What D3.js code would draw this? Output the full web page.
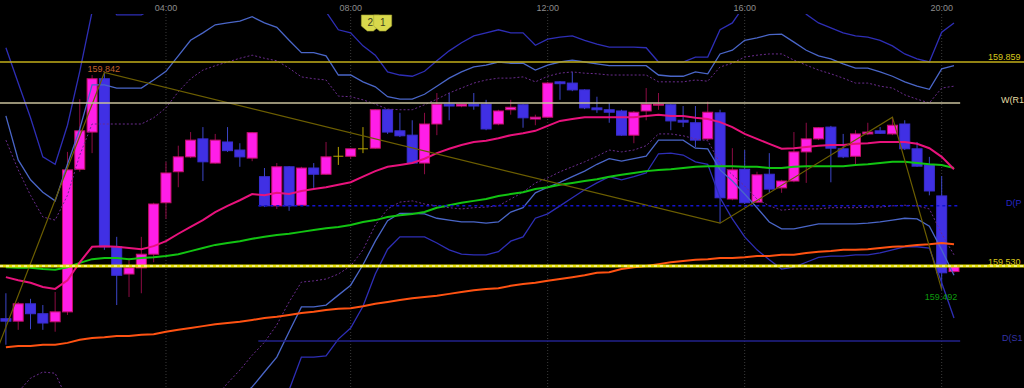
<!DOCTYPE html>
<html>
<head>
<meta charset="utf-8">
<script src="https://cdn.jsdelivr.net/npm/d3@7"></script>
<style>
  html, body { margin: 0; padding: 0; background: #000; }
  svg { display: block; }
</style>
</head>
<body>
<svg id="chart" width="1024" height="388"></svg>
<script>
// 15 minute candles, index 0 = first bar on screen
const opens = [159.445,159.441,159.469,159.453,159.440,159.456,159.686,159.746,159.832,159.561,
  159.517,159.527,159.549,159.632,159.682,159.706,159.735,159.696,159.730,159.717,
  159.704,159.674,159.627,159.690,159.628,159.688,159.678,159.707,159.707,159.719,
  159.720,159.782,159.748,159.741,159.696,159.759,159.791,159.788,159.791,159.791,
  159.759,159.782,159.790,159.767,159.770,159.827,159.825,159.814,159.785,159.782,
  159.780,159.741,159.780,159.790,159.790,159.765,159.761,159.735,159.777,159.638,
  159.686,159.633,159.678,159.656,159.667,159.714,159.735,159.754,159.719,159.707,
  159.743,159.748,159.743,159.759,159.719,159.693,159.643,159.521];
const highs = [159.486,159.472,159.477,159.467,159.488,159.714,159.799,159.838,159.842,159.577,
  159.543,159.577,159.632,159.698,159.724,159.746,159.754,159.743,159.754,159.728,
  159.746,159.688,159.696,159.691,159.690,159.696,159.730,159.722,159.720,159.754,
  159.783,159.783,159.777,159.765,159.777,159.809,159.809,159.791,159.809,159.798,
  159.782,159.798,159.791,159.774,159.827,159.828,159.843,159.815,159.803,159.793,
  159.782,159.780,159.817,159.809,159.791,159.788,159.788,159.795,159.782,159.720,
  159.717,159.682,159.712,159.669,159.746,159.761,159.754,159.756,159.743,159.749,
  159.761,159.754,159.770,159.765,159.730,159.706,159.675,159.531];
const lows = [159.403,159.427,159.428,159.427,159.424,159.451,159.682,159.712,159.556,159.467,
  159.480,159.486,159.536,159.606,159.657,159.704,159.667,159.695,159.714,159.690,
  159.699,159.625,159.622,159.619,159.627,159.656,159.677,159.693,159.703,159.712,
  159.719,159.743,159.738,159.695,159.678,159.741,159.765,159.786,159.782,159.749,
  159.757,159.774,159.753,159.757,159.769,159.798,159.812,159.783,159.777,159.761,
  159.740,159.728,159.765,159.782,159.749,159.754,159.722,159.733,159.599,159.636,
  159.630,159.632,159.648,159.648,159.665,159.664,159.733,159.665,159.704,159.693,
  159.741,159.743,159.741,159.717,159.690,159.644,159.492,159.519];
const closes = [159.441,159.469,159.453,159.438,159.456,159.685,159.748,159.832,159.561,159.515,
  159.527,159.549,159.630,159.680,159.706,159.733,159.698,159.733,159.716,159.706,
  159.745,159.627,159.690,159.627,159.688,159.678,159.706,159.707,159.719,159.719,
  159.782,159.746,159.740,159.696,159.759,159.791,159.788,159.791,159.788,159.751,
  159.780,159.786,159.769,159.770,159.825,159.824,159.814,159.785,159.782,159.778,
  159.741,159.778,159.791,159.791,159.764,159.762,159.733,159.778,159.640,159.685,
  159.632,159.677,159.654,159.667,159.714,159.735,159.753,159.720,159.706,159.743,
  159.746,159.744,159.757,159.719,159.691,159.651,159.519,159.530];

// moving averages
const maFast = [159.512,159.507,159.503,159.496,159.493,159.507,159.536,159.561,159.562,159.561,
  159.559,159.557,159.562,159.570,159.582,159.593,159.604,159.617,159.627,159.636,
  159.646,159.644,159.648,159.646,159.651,159.654,159.657,159.661,159.665,159.674,
  159.683,159.690,159.693,159.696,159.703,159.712,159.719,159.725,159.730,159.732,
  159.736,159.741,159.744,159.748,159.756,159.764,159.767,159.770,159.770,159.770,
  159.770,159.770,159.772,159.774,159.772,159.772,159.769,159.767,159.762,159.754,
  159.743,159.735,159.727,159.719,159.720,159.722,159.724,159.725,159.725,159.727,
  159.728,159.730,159.730,159.730,159.727,159.720,159.706,159.686];
const maMid = [159.528,159.527,159.527,159.525,159.524,159.528,159.535,159.541,159.543,159.543,
  159.541,159.543,159.544,159.546,159.549,159.554,159.559,159.564,159.567,159.570,
  159.574,159.577,159.580,159.582,159.585,159.588,159.591,159.593,159.596,159.601,
  159.604,159.609,159.612,159.614,159.617,159.624,159.628,159.632,159.635,159.638,
  159.643,159.646,159.649,159.654,159.657,159.661,159.664,159.667,159.670,159.674,
  159.677,159.680,159.683,159.685,159.686,159.688,159.690,159.691,159.691,159.691,
  159.690,159.690,159.688,159.688,159.690,159.691,159.691,159.691,159.691,159.693,
  159.694,159.696,159.698,159.698,159.696,159.694,159.693,159.688];
const maSlow = [159.399,159.401,159.401,159.403,159.403,159.406,159.411,159.414,159.415,159.417,
  159.417,159.419,159.420,159.424,159.427,159.430,159.433,159.436,159.438,159.440,
  159.443,159.446,159.448,159.451,159.454,159.456,159.459,159.461,159.462,159.465,
  159.469,159.472,159.475,159.478,159.480,159.482,159.485,159.488,159.491,159.493,
  159.494,159.498,159.501,159.503,159.506,159.509,159.512,159.515,159.519,159.520,
  159.525,159.528,159.530,159.533,159.536,159.538,159.540,159.541,159.543,159.543,
  159.544,159.546,159.546,159.548,159.548,159.551,159.553,159.554,159.556,159.556,
  159.557,159.559,159.561,159.562,159.564,159.565,159.567,159.565];

// envelope bands
const outerUp = [159.882,159.825,159.769,159.706,159.694,159.757,159.844,159.940,159.967,159.935,
  159.935,159.935,159.946,159.967,159.983,159.999,160.007,160.015,160.015,160.015,
  160.015,160.007,159.999,159.983,159.967,159.951,159.940,159.911,159.906,159.885,
  159.870,159.843,159.838,159.836,159.844,159.861,159.877,159.890,159.901,159.906,
  159.911,159.906,159.906,159.886,159.896,159.899,159.901,159.894,159.888,159.883,
  159.883,159.883,159.882,159.859,159.859,159.859,159.867,159.867,159.911,159.922,
  159.951,159.967,159.975,159.975,159.967,159.936,159.922,159.914,159.906,159.901,
  159.899,159.894,159.885,159.872,159.864,159.859,159.907,159.922];
const innerUp = [159.772,159.701,159.669,159.649,159.635,159.694,159.751,159.822,159.822,159.817,
  159.817,159.817,159.830,159.844,159.869,159.894,159.906,159.919,159.922,159.925,
  159.932,159.922,159.915,159.894,159.874,159.874,159.869,159.838,159.838,159.827,
  159.819,159.803,159.799,159.799,159.807,159.820,159.833,159.843,159.851,159.854,
  159.859,159.857,159.857,159.846,159.854,159.859,159.862,159.859,159.856,159.853,
  159.853,159.853,159.853,159.838,159.836,159.836,159.843,159.840,159.872,159.878,
  159.894,159.898,159.903,159.904,159.891,159.878,159.869,159.864,159.856,159.849,
  159.849,159.843,159.836,159.827,159.820,159.815,159.848,159.853];
const dotUp = [159.733,159.685,159.644,159.609,159.604,159.644,159.709,159.759,159.759,159.759,
  159.759,159.759,159.769,159.785,159.811,159.832,159.846,159.853,159.859,159.865,
  159.870,159.865,159.861,159.849,159.835,159.832,159.830,159.804,159.803,159.798,
  159.791,159.783,159.782,159.782,159.790,159.799,159.809,159.817,159.825,159.830,
  159.833,159.833,159.835,159.827,159.836,159.841,159.843,159.841,159.840,159.838,
  159.838,159.838,159.838,159.827,159.827,159.827,159.830,159.828,159.851,159.857,
  159.867,159.870,159.872,159.872,159.862,159.854,159.846,159.840,159.833,159.825,
  159.825,159.820,159.817,159.806,159.799,159.793,159.817,159.820];
const dotLow = [159.282,159.327,159.349,159.359,159.357,159.314,159.233,159.185,159.169,159.169,
  159.169,159.177,159.201,159.225,159.249,159.274,159.298,159.317,159.341,159.362,
  159.386,159.407,159.435,159.472,159.504,159.506,159.509,159.517,159.530,159.556,
  159.596,159.622,159.633,159.635,159.630,159.627,159.624,159.622,159.624,159.625,
  159.627,159.638,159.649,159.664,159.672,159.682,159.690,159.698,159.707,159.717,
  159.714,159.717,159.724,159.743,159.743,159.740,159.735,159.732,159.696,159.677,
  159.659,159.638,159.627,159.620,159.622,159.622,159.622,159.624,159.624,159.624,
  159.625,159.625,159.627,159.628,159.627,159.622,159.582,159.548];
const innerLow = [159.265,159.282,159.290,159.298,159.298,159.249,159.153,159.104,159.088,159.088,
  159.088,159.096,159.120,159.153,159.185,159.217,159.249,159.274,159.298,159.317,
  159.335,159.359,159.383,159.424,159.464,159.464,159.467,159.483,159.499,159.532,
  159.570,159.603,159.615,159.615,159.614,159.607,159.604,159.601,159.601,159.599,
  159.601,159.617,159.624,159.648,159.657,159.665,159.674,159.683,159.694,159.703,
  159.699,159.703,159.707,159.733,159.733,159.733,159.720,159.719,159.685,159.667,
  159.646,159.624,159.601,159.590,159.590,159.594,159.598,159.598,159.598,159.598,
  159.599,159.601,159.604,159.607,159.606,159.594,159.556,159.515];
const outerLow = [159.201,159.217,159.225,159.233,159.233,159.153,159.056,158.991,158.975,158.975,
  158.975,158.991,159.024,159.056,159.088,159.136,159.169,159.201,159.233,159.257,
  159.282,159.298,159.314,159.330,159.383,159.383,159.385,159.412,159.430,159.465,
  159.517,159.557,159.577,159.577,159.577,159.567,159.556,159.549,159.548,159.548,
  159.553,159.570,159.577,159.607,159.614,159.627,159.640,159.653,159.664,159.674,
  159.669,159.674,159.680,159.711,159.712,159.709,159.698,159.694,159.640,159.606,
  159.577,159.556,159.540,159.525,159.528,159.536,159.544,159.546,159.546,159.548,
  159.548,159.551,159.556,159.561,159.561,159.559,159.503,159.446];

// zigzag swing points [bar index, price]
const zigzagBars = [-1, 8, 58, 72, 76];
const zigzagPrices = [159.380, 159.842, 159.599, 159.770, 159.492];

const timeLabels = ["04:00", "08:00", "12:00", "16:00", "20:00"];
const timeBars = [13, 28, 44, 60, 76];

// pivot labels as they show at the right edge of the window
const pivotNames = ["W(R1", "D(P", "D(S1"];
const pivotPrices = [159.793, 159.627, 159.409];
const dayHigh = 159.859;
const bid = 159.530;
const eventBars = [29.6, 30.6];
const eventLabels = ["2", "1"];

const W = 1024, H = 388;
const svg = d3.select("#chart");
const x = d3.scaleLinear().domain([0, 77]).range([5.9, 954]);
const y = d3.scaleLinear().domain([159.3332, 159.959]).range([H, 0]);
const fmt = d3.format(".3f");

svg.append("rect").attr("width", W).attr("height", H).attr("fill", "#000");
svg.append("clipPath").attr("id", "plot")
  .append("rect").attr("x", 0).attr("y", 14).attr("width", W).attr("height", H - 14);

// time grid
timeBars.forEach((b, i) => {
  svg.append("line")
    .attr("x1", x(b)).attr("x2", x(b)).attr("y1", 14).attr("y2", H)
    .attr("stroke", "#3a3a3a").attr("stroke-dasharray", "1,2");
  svg.append("text").text(timeLabels[i])
    .attr("x", x(b)).attr("y", 11).attr("text-anchor", "middle")
    .style("font-family", "Liberation Sans, Arial").style("font-size", "9px")
    .style("fill", "#8c8c8c");
});

// candles
const bars = d3.range(opens.length);
const candles = svg.append("g");
bars.forEach((i) => {
  const up = closes[i] > opens[i];
  const doji = closes[i] === opens[i];
  const wick = doji ? "#b8a400" : up ? "#8c0c44" : "#3c46c8";
  candles.append("line")
    .attr("x1", x(i)).attr("x2", x(i))
    .attr("y1", y(highs[i])).attr("y2", y(lows[i]))
    .attr("stroke", wick).attr("stroke-width", 1);
  if (doji) {
    candles.append("line")
      .attr("x1", x(i) - 5).attr("x2", x(i) + 5)
      .attr("y1", y(opens[i])).attr("y2", y(opens[i]))
      .attr("stroke", wick).attr("stroke-width", 1);
    return;
  }
  const top = y(Math.max(opens[i], closes[i]));
  const bot = y(Math.min(opens[i], closes[i]));
  candles.append("rect")
    .attr("x", x(i) - 5).attr("y", top)
    .attr("width", 10).attr("height", Math.max(1, bot - top))
    .attr("fill", up ? "#ff1ee8" : "#4030e4")
    .attr("stroke", up ? "#c4126a" : "#3a2ed0").attr("stroke-width", 1);
});

// pivot / level lines
const lv = svg.append("g");
lv.append("line").attr("x1", 0).attr("x2", W)
  .attr("y1", y(dayHigh)).attr("y2", y(dayHigh))
  .attr("stroke", "#c2ae1a").attr("stroke-width", 1.5);
lv.append("line").attr("x1", 0).attr("x2", x(77.5))
  .attr("y1", y(pivotPrices[0])).attr("y2", y(pivotPrices[0]))
  .attr("stroke", "#c8c09c").attr("stroke-width", 1.5);
lv.append("line").attr("x1", x(20.5)).attr("x2", x(77.5))
  .attr("y1", y(pivotPrices[1])).attr("y2", y(pivotPrices[1]))
  .attr("stroke", "#1414d0").attr("stroke-width", 1.5).attr("stroke-dasharray", "3,3");
lv.append("line").attr("x1", x(20.5)).attr("x2", x(77.5))
  .attr("y1", y(pivotPrices[2])).attr("y2", y(pivotPrices[2]))
  .attr("stroke", "#22228c").attr("stroke-width", 1.5);

// indicator lines
const plot = svg.append("g").attr("clip-path", "url(#plot)");
const line = d3.line().x((d, i) => x(i)).y((d) => y(d));
function drawSeries(values, color, width, dash) {
  plot.append("path").datum(values)
    .attr("d", line).attr("fill", "none")
    .attr("stroke", color).attr("stroke-width", width)
    .attr("stroke-dasharray", dash || null);
}
drawSeries(outerUp, "#2e2eb6", 1.3);
drawSeries(innerUp, "#4a66c8", 1.3);
drawSeries(dotUp, "#6a2c8e", 1, "2,2");
drawSeries(dotLow, "#6a2c8e", 1, "2,2");
drawSeries(innerLow, "#4a66c8", 1.3);
drawSeries(outerLow, "#2e2eb6", 1.3);
drawSeries(maSlow, "#ff5212", 2);
drawSeries(maMid, "#12c412", 2);
drawSeries(maFast, "#e8127c", 2);

plot.append("path")
  .datum(zigzagBars.map((b, i) => [x(b), y(zigzagPrices[i])]))
  .attr("d", d3.line()).attr("fill", "none")
  .attr("stroke", "#6c5e00").attr("stroke-width", 1.2);

// bid line
lv.append("line").attr("x1", 0).attr("x2", W)
  .attr("y1", y(bid)).attr("y2", y(bid))
  .attr("stroke", "#e6e000").attr("stroke-width", 3);
lv.append("line").attr("x1", 0).attr("x2", W)
  .attr("y1", y(bid)).attr("y2", y(bid))
  .attr("stroke", "#ffffff").attr("stroke-width", 1.2).attr("stroke-dasharray", "3,3");
svg.node().appendChild(lv.node());

// event flags
eventBars.forEach((b, i) => {
  const cx = x(b);
  svg.append("path")
    .attr("d", `M${cx - 9},15 H${cx + 9} V26 L${cx + 3},31 L${cx - 3},31 L${cx - 9},26 Z`)
    .attr("fill", "#d8d84c").attr("stroke", "#a8a830").attr("stroke-width", 0.6);
  svg.append("text").text(eventLabels[i])
    .attr("x", cx).attr("y", 26).attr("text-anchor", "middle")
    .style("font-family", "Liberation Sans, Arial").style("font-size", "10px")
    .style("fill", "#3c3c20");
});

// labels
const label = (t, lx, ly, color) => svg.append("text").text(t)
  .attr("x", lx).attr("y", ly)
  .style("font-family", "Liberation Sans, Arial").style("font-size", "9px")
  .style("fill", color);
label(fmt(dayHigh), 988, y(dayHigh) - 2, "#d8c81c");
label(fmt(bid), 988, y(bid) - 1, "#d8c81c");
label(pivotNames[0], 1001, y(pivotPrices[0]), "#e4dca4");
label(pivotNames[1], 1006, y(pivotPrices[1]), "#2626c4");
label(pivotNames[2], 1002, y(pivotPrices[2]), "#3434a8");
label(fmt(zigzagPrices[1]), x(zigzagBars[1]) - 17, y(zigzagPrices[1]) - 1, "#c0602a");
label(fmt(zigzagPrices[4]), x(zigzagBars[4]) - 17, y(zigzagPrices[4]) + 10, "#0e9a0e");
</script>
</body>
</html>
